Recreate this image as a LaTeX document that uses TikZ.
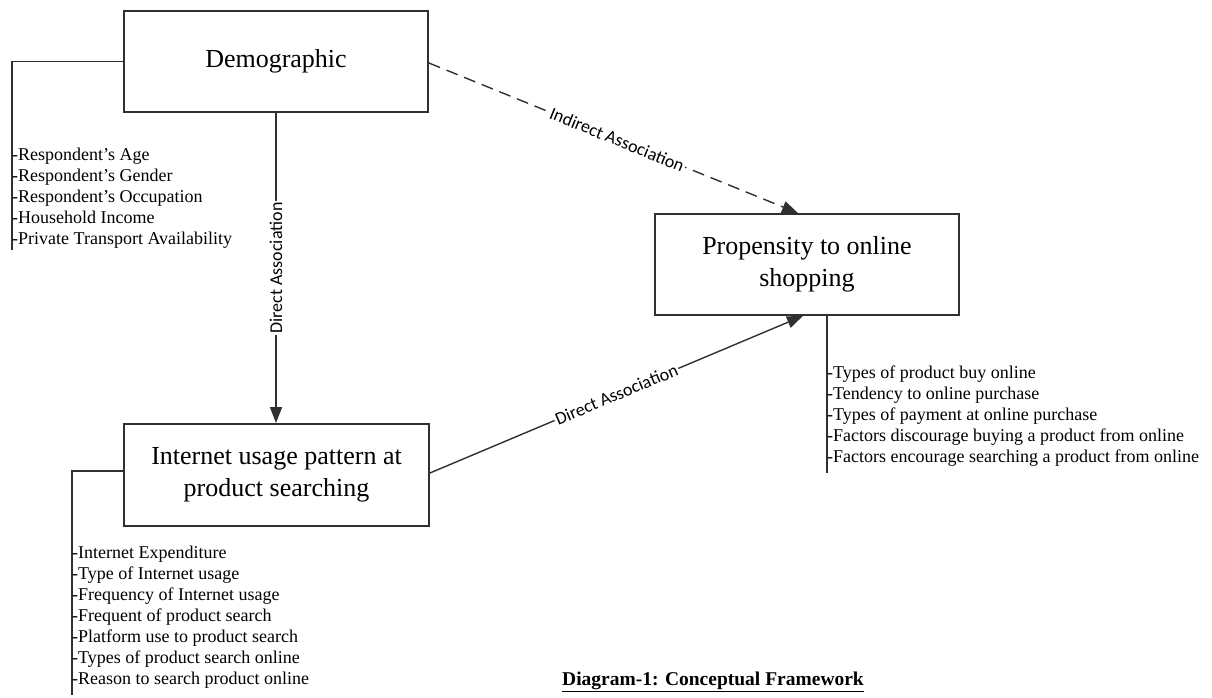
\documentclass[tikz,border=0pt]{standalone}
\usepackage{fontspec}
\setmainfont{Liberation Serif}
\newfontfamily\lblfont{Carlito}
\usetikzlibrary{arrows.meta,calc}
\definecolor{ink}{HTML}{303030}
\tikzset{
  box/.style={draw=ink, line width=1.8pt, rectangle, minimum width=304pt, minimum height=101pt, inner sep=0pt, align=center, font=\fontsize{26}{32}\selectfont},
  conn/.style={draw=ink, line width=1.4pt, -{Triangle[length=16pt,width=12pt]}},
  bracket/.style={draw=ink, line width=1.4pt},
  items/.style={anchor=north west, inner sep=0pt, align=left, font=\fontsize{18}{21}\selectfont},
  lbl/.style={fill=white, inner sep=1.5pt, font=\lblfont\fontsize{18}{19}\selectfont}
}
\begin{document}
\begin{tikzpicture}[x=1pt,y=-1pt]
\useasboundingbox (0,0) rectangle (1212,698);

\node[box] (dem) at (276,61.5) {Demographic};
\node[box, minimum width=305pt, minimum height=102pt] (int) at (276.5,475) {Internet usage pattern at\\product searching};
\node[box] (prop) at (807,264.5) {Propensity to online\\shopping};

% connectors
\coordinate (demout) at ($(dem.east)+(0,1.5)$);
\coordinate (proptop) at ($(prop.north)+(-9,0)$);
\coordinate (propbot) at ($(prop.south)+(-4,0)$);
\coordinate (intout) at ($(int.east)+(0,-2)$);
\draw[conn, dash pattern=on 12pt off 7pt] (demout) -- node[lbl, sloped, pos=0.51] {Indirect Association} (proptop);
\draw[conn] (dem.south) -- node[lbl, rotate=90, pos=0.5] {Direct Association} (dem.south |- int.north);
\draw[conn] (intout) -- node[lbl, sloped, pos=0.5] {Direct Association} (propbot);

% Demographic list
\coordinate (dl) at (12,61.5);
\coordinate (dlb) at (12,250);
\draw[bracket] (dem.west) -- (dl) -- (dlb);
\node[items] (demitems) at (12,148) {-Respondent's Age\\-Respondent's Gender\\-Respondent's Occupation\\-Household Income\\-Private Transport Availability};

% Internet list
\coordinate (il) at (72,471);
\coordinate (ilb) at (72,695);
\draw[bracket] (int.west |- il) -- (il) -- (ilb);
\node[items] (intitems) at (72,546) {-Internet Expenditure\\-Type of Internet usage\\-Frequency of Internet usage\\-Frequent of product search\\-Platform use to product search\\-Types of product search online\\-Reason to search product online};

% Propensity list
\coordinate (pl) at (827,314.5);
\coordinate (plb) at (827,473);
\draw[bracket] (pl) -- (plb);
\node[items] (propitems) at (827,366) {-Types of product buy online\\-Tendency to online purchase\\-Types of payment at online purchase\\-Factors discourage buying a product from online\\-Factors encourage searching a product from online};

% title
\node[anchor=base, inner sep=0pt, font=\bfseries\fontsize{19.5}{22}\selectfont] (title) at (713,685) {\underline{Diagram-1: Conceptual Framework}};
\end{tikzpicture}
\end{document}
